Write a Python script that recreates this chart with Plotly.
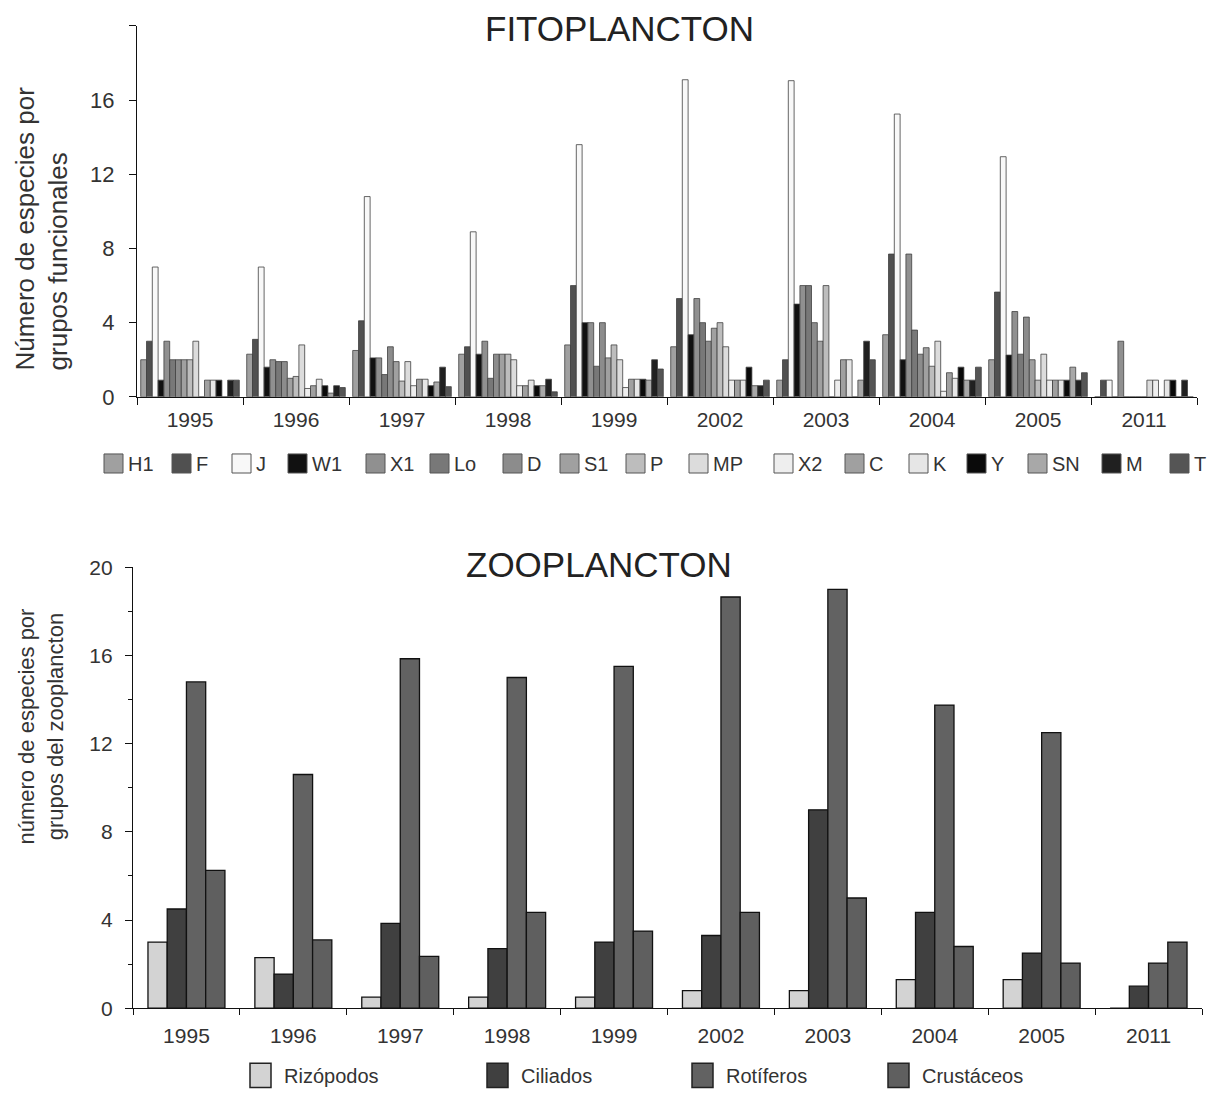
import plotly.graph_objects as go

years = ["1995", "1996", "1997", "1998", "1999", "2002", "2003", "2004", "2005", "2011"]

# FITOPLANCTON: species per functional group
fito_groups = ["H1", "F", "J", "W1", "X1", "Lo", "D", "S1", "P", "MP", "X2", "C", "K", "Y", "SN", "M", "T"]
H1 = [2.0, 2.3, 2.5, 2.3, 2.8, 2.7, 0.9, 3.35, 2.0, 0]
F = [3.0, 3.1, 4.1, 2.7, 6.0, 5.3, 2.0, 7.7, 5.65, 0.9]
J = [7.0, 7.0, 10.8, 8.9, 13.6, 17.1, 17.05, 15.25, 12.95, 0.9]
W1 = [0.9, 1.6, 2.1, 2.3, 4.0, 3.35, 5.0, 2.0, 2.25, 0]
X1 = [3.0, 2.0, 2.1, 3.0, 4.0, 5.3, 6.0, 7.7, 4.6, 3.0]
Lo = [2.0, 1.9, 1.2, 1.0, 1.65, 4.0, 6.0, 3.6, 2.3, 0]
D = [2.0, 1.9, 2.7, 2.3, 4.0, 3.0, 4.0, 2.3, 4.3, 0]
S1 = [2.0, 1.0, 1.9, 2.3, 2.1, 3.7, 3.0, 2.65, 2.0, 0]
P = [2.0, 1.1, 0.85, 2.3, 2.8, 4.0, 6.0, 1.65, 0.9, 0]
MP = [3.0, 2.8, 1.9, 2.0, 2.0, 2.7, 0, 3.0, 2.3, 0.9]
X2 = [0, 0.45, 0.6, 0.6, 0.5, 0.9, 0.9, 0.3, 0.9, 0.9]
C = [0.9, 0.6, 0.95, 0.6, 0.95, 0.9, 2.0, 1.3, 0.9, 0]
K = [0.9, 0.95, 0.95, 0.9, 0.95, 0.9, 2.0, 1.0, 0.9, 0.9]
Y = [0.9, 0.6, 0.6, 0.6, 0.95, 1.6, 0, 1.6, 0.9, 0.9]
SN = [0, 0.2, 0.8, 0.6, 0.9, 0.6, 0.9, 0.9, 1.6, 0]
M = [0.9, 0.6, 1.6, 0.95, 2.0, 0.6, 3.0, 0.9, 0.9, 0.9]
T = [0.9, 0.5, 0.55, 0.27, 1.5, 0.9, 2.0, 1.6, 1.3, 0]
fito_values = [H1, F, J, W1, X1, Lo, D, S1, P, MP, X2, C, K, Y, SN, M, T]
fito_colors = ["#a0a0a0", "#505050", "#f8f8f8", "#111111", "#909090", "#787878",
               "#8c8c8c", "#a0a0a0", "#bdbdbd", "#dcdcdc", "#eeeeee", "#a0a0a0",
               "#e6e6e6", "#0a0a0a", "#a8a8a8", "#202020", "#555555"]

# ZOOPLANCTON: species per zooplankton group
zoo_groups = ["Rizópodos", "Ciliados", "Rotíferos", "Crustáceos"]
Rizopodos = [3.0, 2.3, 0.5, 0.5, 0.5, 0.8, 0.8, 1.3, 1.3, 0]
Ciliados = [4.5, 1.55, 3.85, 2.7, 3.0, 3.3, 9.0, 4.35, 2.5, 1.0]
Rotiferos = [14.8, 10.6, 15.85, 15.0, 15.5, 18.65, 19.0, 13.75, 12.5, 2.05]
Crustaceos = [6.25, 3.1, 2.35, 4.35, 3.5, 4.35, 5.0, 2.8, 2.05, 3.0]
zoo_values = [Rizopodos, Ciliados, Rotiferos, Crustaceos]
zoo_colors = ["#d3d3d3", "#404040", "#626262", "#5f5f5f"]

FONT = "Liberation Sans, Arial, sans-serif"
W, H = 1201, 1099
OFF_X = 8        # browser body margin
OFF_Y = 22.6     # measured vertical offset of the figure in the snapshot
SY = 0.975       # measured vertical scale of the snapshot


def px(xs):
    return (xs - OFF_X) / W


def py(ys):
    return 1 - (ys / SY - OFF_Y) / H


fig = go.Figure()

for name, vals, col in zip(fito_groups, fito_values, fito_colors):
    fig.add_trace(go.Bar(
        x=years, y=vals, name=name, showlegend=False,
        marker=dict(color=col, line=dict(color="#404040", width=0.8)),
        xaxis="x", yaxis="y"))

zoo_offsets = [-0.36, -0.18, 0.0, 0.18]
for name, vals, col, off in zip(zoo_groups, zoo_values, zoo_colors, zoo_offsets):
    fig.add_trace(go.Bar(
        x=years, y=vals, name=name, width=0.18, offset=off, showlegend=False,
        marker=dict(color=col, line=dict(color="#111111", width=1.3)),
        xaxis="x2", yaxis="y2"))

axis_common = dict(showline=True, linecolor="#111111", linewidth=1.2, ticks="outside",
                   tickcolor="#111111", showgrid=False, zeroline=False)

shapes = []
annotations = []

# legend for FITOPLANCTON (drawn by hand to match the reference layout)
fito_leg_x = [104, 172, 232, 288, 366, 430, 503, 560, 626, 689, 774, 845, 909, 967, 1028, 1102, 1170]
for name, col, lx in zip(fito_groups, fito_colors, fito_leg_x):
    shapes.append(dict(type="rect", xref="paper", yref="paper",
                       x0=px(lx), x1=px(lx + 19), y0=py(474), y1=py(455),
                       fillcolor=col, line=dict(color="#555555", width=1)))
    annotations.append(dict(text=name, x=px(lx + 22), y=py(465), xref="paper", yref="paper",
                            showarrow=False, xanchor="left", yanchor="middle",
                            font=dict(family=FONT, size=20, color="#333333")))

# legend for ZOOPLANCTON
zoo_leg_x = [250, 487, 692, 888]
for name, col, lx in zip(zoo_groups, zoo_colors, zoo_leg_x):
    shapes.append(dict(type="rect", xref="paper", yref="paper",
                       x0=px(lx), x1=px(lx + 21), y0=py(1087), y1=py(1063),
                       fillcolor=col, line=dict(color="#222222", width=1.5)))
    annotations.append(dict(text=name, x=px(lx + 32), y=py(1076), xref="paper", yref="paper",
                            showarrow=False, xanchor="left", yanchor="middle",
                            font=dict(family=FONT, size=20, color="#333333")))

annotations += [
    dict(text="FITOPLANCTON", x=px(619), y=py(31), xref="paper", yref="paper",
         showarrow=False, font=dict(family=FONT, size=35, color="#222222"),
         xanchor="center", yanchor="middle"),
    dict(text="ZOOPLANCTON", x=px(599), y=py(565), xref="paper", yref="paper",
         showarrow=False, font=dict(family=FONT, size=35, color="#222222"),
         xanchor="center", yanchor="middle"),
    dict(text="Número de especies por<br>grupos funcionales", x=px(42), y=py(230),
         xref="paper", yref="paper", showarrow=False, textangle=-90, align="left",
         font=dict(family=FONT, size=26, color="#333333"),
         xanchor="center", yanchor="middle"),
    dict(text="número de especies por<br>grupos del zooplancton", x=px(41), y=py(727),
         xref="paper", yref="paper", showarrow=False, textangle=-90,
         font=dict(family=FONT, size=22, color="#333333"),
         xanchor="center", yanchor="middle"),
]

fig.update_layout(
    width=W, height=H,
    margin=dict(l=0, r=0, t=0, b=0),
    paper_bgcolor="white", plot_bgcolor="white",
    barmode="group", bargap=0.07, bargroupgap=0,
    font=dict(family=FONT, color="#333333"),
    showlegend=False,
    xaxis=dict(domain=[px(137), px(1197)], anchor="y", type="category",
               tickson="boundaries", ticklen=7, ticklabelstandoff=4,
               tickfont=dict(family=FONT, size=21, color="#333333"), **axis_common),
    yaxis=dict(domain=[py(398), py(28)], anchor="x", range=[0, 20],
               tickvals=[0, 4, 8, 12, 16, 20], ticktext=["0", "4", "8", "12", "16", ""],
               ticklen=7, ticklabelstandoff=10,
               tickfont=dict(family=FONT, size=22, color="#333333"), **axis_common),
    xaxis2=dict(domain=[px(133), px(1202)], anchor="y2", type="category",
                tickson="boundaries", ticklen=6, ticklabelstandoff=8,
                tickfont=dict(family=FONT, size=21, color="#333333"), **axis_common),
    yaxis2=dict(domain=[py(1008), py(568)], anchor="x2", range=[0, 20],
                tickvals=[0, 4, 8, 12, 16, 20], ticklen=7, ticklabelstandoff=8,
                minor=dict(tickvals=[2, 6, 10, 14, 18], ticks="outside", ticklen=4,
                           tickcolor="#111111"),
                tickfont=dict(family=FONT, size=21, color="#333333"), **axis_common),
    shapes=shapes,
    annotations=annotations,
)

fig.write_html("out.html")
